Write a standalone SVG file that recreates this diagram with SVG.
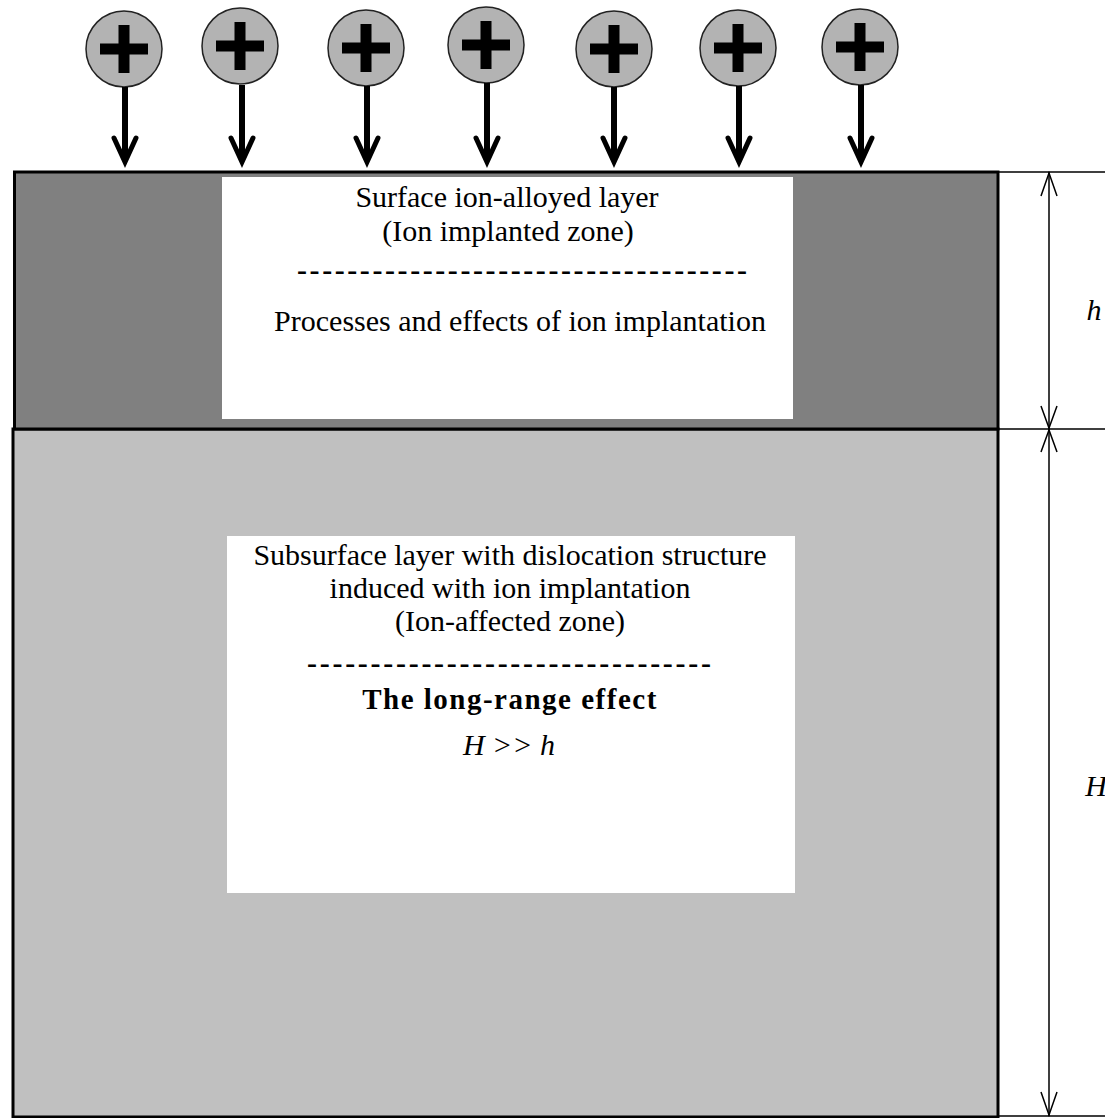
<svg xmlns="http://www.w3.org/2000/svg" width="1105" height="1118" viewBox="0 0 1105 1118">
<style>
.t{font-family:"Liberation Serif","Times New Roman",serif;font-size:30px;fill:#000;text-anchor:middle}
.b{font-weight:bold}
.i{font-style:italic}
.stem{stroke:#000;stroke-width:6;fill:none}
.head{stroke:#000;stroke-width:5;fill:none;stroke-linejoin:miter;stroke-linecap:round}
.dim{stroke:#000;stroke-width:1.5;fill:none}
</style>
<defs>
<g id="ionshape">
<circle cx="0" cy="0" r="38" fill="#b3b3b3" stroke="#222" stroke-width="1.5"/>
<rect x="-24" y="-5.5" width="48" height="11" fill="#000"/>
<rect x="-5.5" y="-24" width="11" height="48" fill="#000"/>
</g>
</defs>
<rect width="1105" height="1118" fill="#fff"/>

<g id="substrate">
<rect x="13" y="429" width="985" height="688" fill="#c0c0c0" stroke="#000" stroke-width="3"/>
</g>
<g id="implanted-layer">
<rect x="14.5" y="172" width="983.5" height="257" fill="#808080" stroke="#000" stroke-width="3"/>
</g>

<g id="surface-box">
<rect x="222" y="177" width="571" height="242" fill="#fff"/>
<text class="t" x="507" y="207">Surface ion-alloyed layer</text>
<text class="t" x="508" y="241">(Ion implanted zone)</text>
<text class="t b" x="522" y="280" textLength="450" lengthAdjust="spacing">------------------------------------</text>
<text class="t" x="520" y="331">Processes and effects of ion implantation</text>
</g>

<g id="subsurface-box">
<rect x="227" y="536" width="568" height="357" fill="#fff"/>
<text class="t" x="510" y="565">Subsurface layer with dislocation structure</text>
<text class="t" x="510" y="598">induced with ion implantation</text>
<text class="t" x="510" y="631">(Ion-affected zone)</text>
<text class="t b" x="509" y="673" textLength="404" lengthAdjust="spacing">--------------------------------</text>
<text class="t b" x="510" y="709" style="letter-spacing:1.5px;font-size:29px">The long-range effect</text>
<text class="t i" x="509" y="755">H &gt;&gt; h</text>
</g>

<g id="ions">
<use href="#ionshape" x="124" y="49"/>
<use href="#ionshape" x="240" y="46"/>
<use href="#ionshape" x="366" y="48"/>
<use href="#ionshape" x="486" y="45"/>
<use href="#ionshape" x="614" y="49"/>
<use href="#ionshape" x="738" y="48"/>
<use href="#ionshape" x="860" y="47"/>
</g>

<g id="connectors">
<g id="ion-arrows">
<path class="stem" d="M125 87V160M242 85V160M367 86V160M487 83V160M614 87V160M739 86V160M861 85V160"/>
<path class="head" d="M114 138L125 162L136 138M231 138L242 162L253 138M356 138L367 162L378 138M476 138L487 162L498 138M603 138L614 162L625 138M728 138L739 162L750 138M850 138L861 162L872 138"/>
</g>
<g id="dimensions">
<path class="dim" d="M998 172H1105M998 429H1105M998 1116H1105M1049 172V1116"/>
<path class="dim" d="M1041 196L1049 173L1057 196M1041 406L1049 428L1057 406M1041 452L1049 430L1057 452M1041 1092L1049 1115L1057 1092"/>
</g>
</g>

<g id="dim-labels">
<text class="t i" x="1094" y="320">h</text>
<text class="t i" x="1096" y="796">H</text>
</g>
</svg>
